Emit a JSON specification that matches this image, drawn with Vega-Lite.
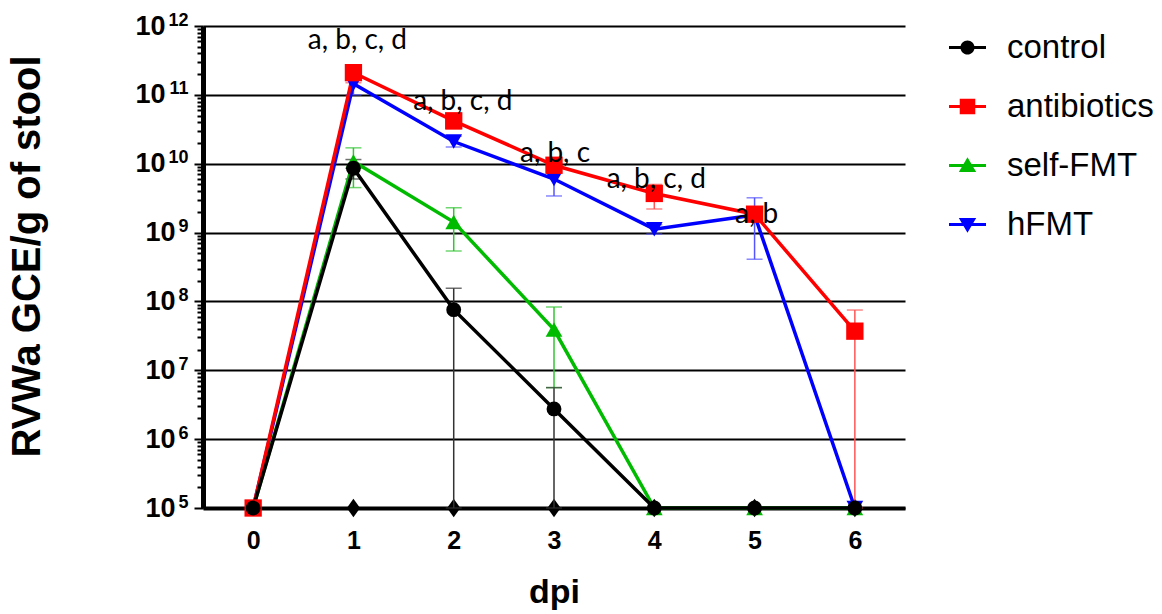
{
  "$schema": "https://vega.github.io/schema/vega-lite/v6.json",
  "width": 702,
  "height": 482,
  "autosize": {"type": "none"},
  "padding": {"left": 203, "top": 26, "right": 257, "bottom": 106},
  "background": "white",
  "config": {"view": {"stroke": null}, "font": "Liberation Sans"},
  "resolve": {"axis": {"y": "independent"}},
  "datasets": {
    "series": [
      {"group": "hFMT", "dpi": 0, "mean": 1e5},
      {"group": "hFMT", "dpi": 1, "mean": 1.45e11, "lo": 1.0e11, "hi": 1.9e11},
      {"group": "hFMT", "dpi": 2, "mean": 2.1e10, "lo": 1.75e10, "hi": 2.5e10},
      {"group": "hFMT", "dpi": 3, "mean": 6.0e9, "lo": 3.4e9, "hi": 8.5e9},
      {"group": "hFMT", "dpi": 4, "mean": 1.12e9, "lo": 9.5e8, "hi": 1.3e9},
      {"group": "hFMT", "dpi": 5, "mean": 1.8e9, "lo": 4.1e8, "hi": 3.2e9},
      {"group": "hFMT", "dpi": 6, "mean": 1e5},
      {"group": "self-FMT", "dpi": 0, "mean": 1e5},
      {"group": "self-FMT", "dpi": 1, "mean": 1.08e10, "lo": 4.5e9, "hi": 1.7e10},
      {"group": "self-FMT", "dpi": 2, "mean": 1.42e9, "lo": 5.4e8, "hi": 2.3e9},
      {"group": "self-FMT", "dpi": 3, "mean": 3.9e7, "lo": 5.6e6, "hi": 8.3e7},
      {"group": "self-FMT", "dpi": 4, "mean": 1e5},
      {"group": "self-FMT", "dpi": 5, "mean": 1e5},
      {"group": "self-FMT", "dpi": 6, "mean": 1e5},
      {"group": "antibiotics", "dpi": 0, "mean": 1e5},
      {"group": "antibiotics", "dpi": 1, "mean": 2.1e11, "lo": 1.5e11, "hi": 2.7e11},
      {"group": "antibiotics", "dpi": 2, "mean": 4.2e10, "lo": 3.2e10, "hi": 5.2e10},
      {"group": "antibiotics", "dpi": 3, "mean": 9.5e9, "lo": 8.0e9, "hi": 1.1e10},
      {"group": "antibiotics", "dpi": 4, "mean": 3.7e9, "lo": 2.2e9, "hi": 5.0e9},
      {"group": "antibiotics", "dpi": 5, "mean": 1.85e9, "lo": 1.45e9, "hi": 2.25e9},
      {"group": "antibiotics", "dpi": 6, "mean": 3.7e7, "lo": 1e5, "hi": 7.5e7},
      {"group": "control", "dpi": 0, "mean": 1e5},
      {"group": "control", "dpi": 1, "mean": 8.6e9, "lo": 6.0e9, "hi": 1.15e10},
      {"group": "control", "dpi": 2, "mean": 7.6e7, "lo": 1e5, "hi": 1.55e8},
      {"group": "control", "dpi": 3, "mean": 2.75e6, "lo": 1e5, "hi": 5.6e6},
      {"group": "control", "dpi": 4, "mean": 1e5},
      {"group": "control", "dpi": 5, "mean": 1e5},
      {"group": "control", "dpi": 6, "mean": 1e5}
    ],
    "ticks": [
      {"dpi": 1, "v": 1e5}, {"dpi": 2, "v": 1e5}, {"dpi": 3, "v": 1e5},
      {"dpi": 4, "v": 1e5}, {"dpi": 5, "v": 1e5}, {"dpi": 6, "v": 1e5}
    ],
    "notes": [
      {"label": "a, b, c, d", "dpi": 1.04, "v": 6.0e11},
      {"label": "a, b, c, d", "dpi": 2.09, "v": 7.8e10},
      {"label": "a, b, c", "dpi": 3.01, "v": 1.38e10},
      {"label": "a, b, c, d", "dpi": 4.02, "v": 5.8e9},
      {"label": "a, b", "dpi": 5.02, "v": 1.8e9}
    ]
  },
  "layer": [
    {
      "data": {"name": "ticks"},
      "mark": {"type": "point", "filled": true, "opacity": 1, "color": "black", "size": 340, "shape": "M 0 -1 L 0.72 0 L 0 1 L -0.72 0 Z"},
      "encoding": {
        "x": {
          "field": "dpi", "type": "quantitative",
          "scale": {"domain": [-0.5, 6.5], "nice": false, "zero": false},
          "axis": {
            "title": "dpi", "values": [0, 1, 2, 3, 4, 5, 6], "format": "d",
            "ticks": false, "grid": false,
            "domainColor": "black", "domainWidth": 4,
            "labelFont": "Liberation Sans", "labelFontWeight": "bold", "labelFontSize": 25, "labelColor": "black", "labelPadding": 20,
            "titleFont": "Liberation Sans", "titleFontSize": 34, "titleFontWeight": "bold", "titleColor": "black", "titlePadding": 22
          }
        },
        "y": {
          "field": "v", "type": "quantitative",
          "scale": {"type": "log", "domain": [1e5, 1e12], "nice": false},
          "axis": {
            "orient": "left",
            "title": "RVWa GCE/g of stool",
            "titleY": 230,
            "values": [1e5, 2e5, 3e5, 4e5, 5e5, 6e5, 7e5, 8e5, 9e5,
                       1e6, 2e6, 3e6, 4e6, 5e6, 6e6, 7e6, 8e6, 9e6,
                       1e7, 2e7, 3e7, 4e7, 5e7, 6e7, 7e7, 8e7, 9e7,
                       1e8, 2e8, 3e8, 4e8, 5e8, 6e8, 7e8, 8e8, 9e8,
                       1e9, 2e9, 3e9, 4e9, 5e9, 6e9, 7e9, 8e9, 9e9,
                       1e10, 2e10, 3e10, 4e10, 5e10, 6e10, 7e10, 8e10, 9e10,
                       1e11, 2e11, 3e11, 4e11, 5e11, 6e11, 7e11, 8e11, 9e11,
                       1e12],
            "labelExpr": "abs(log(datum.value)/LN10 - round(log(datum.value)/LN10)) < 0.001 ? '10' : ''",
            "labelOverlap": false,
            "labelFont": "Liberation Sans", "labelFontWeight": "bold", "labelFontSize": 27, "labelColor": "black",
            "labelPadding": {"condition": {"test": "datum.value > 5e9", "value": 29}, "value": 19},
            "tickSize": {"condition": {"test": "abs(log(datum.value)/LN10 - round(log(datum.value)/LN10)) < 0.001", "value": 9}, "value": 6},
            "tickWidth": 2, "tickColor": "black",
            "grid": true, "gridColor": "black", "gridWidth": 2,
            "gridOpacity": {"condition": {"test": "abs(log(datum.value)/LN10 - round(log(datum.value)/LN10)) < 0.001", "value": 1}, "value": 0},
            "domainColor": "black", "domainWidth": 5,
            "titleFont": "Liberation Sans", "titleFontSize": 40, "titleFontWeight": "bold", "titleColor": "black", "titlePadding": 87
          }
        }
      }
    },
    {
      "data": {"name": "series"},
      "transform": [{"filter": "isValid(datum.lo)"}],
      "mark": {"type": "rule", "strokeWidth": 1.5},
      "encoding": {
        "x": {"field": "dpi", "type": "quantitative"},
        "y": {"field": "lo", "type": "quantitative", "axis": null},
        "y2": {"field": "hi"},
        "stroke": {
          "field": "group", "type": "nominal", "legend": null,
          "scale": {"domain": ["hFMT", "self-FMT", "antibiotics", "control"], "range": ["#5555FF", "#33C433", "#FF5555", "#333333"]}
        }
      }
    },
    {
      "data": {"name": "series"},
      "transform": [{"filter": "isValid(datum.lo)"}, {"fold": ["lo", "hi"], "as": ["k", "bound"]}],
      "mark": {"type": "tick", "orient": "horizontal", "size": 16, "thickness": 1.5},
      "encoding": {
        "x": {"field": "dpi", "type": "quantitative"},
        "y": {"field": "bound", "type": "quantitative", "axis": null},
        "fill": {
          "field": "group", "type": "nominal", "legend": null,
          "scale": {"domain": ["self-FMT", "hFMT", "control", "antibiotics"], "range": ["#33C433", "#5555FF", "#333333", "#FF5555"]}
        }
      }
    },
    {
      "data": {"name": "series"},
      "mark": {"type": "line", "strokeWidth": 3.5},
      "encoding": {
        "x": {"field": "dpi", "type": "quantitative"},
        "y": {"field": "mean", "type": "quantitative", "axis": null},
        "color": {
          "field": "group", "type": "nominal",
          "scale": {"domain": ["control", "antibiotics", "self-FMT", "hFMT"], "range": ["#000000", "#FF0000", "#00BB00", "#0000FF"]},
          "legend": {
            "orient": "none", "legendX": 746, "legendY": 3,
            "title": null,
            "labelFont": "Liberation Sans", "labelFontSize": 33, "labelColor": "black",
            "symbolSize": 1369, "rowPadding": 23, "labelOffset": 21, "symbolOpacity": 1,
            "symbolStrokeWidth": 0,
            "encode": {
              "symbols": {
                "update": {
                  "shape": {"signal": "datum.value === 'control' ? 'M -1 -0.08 H 1 V 0.08 H -1 Z M 0.38 0 A 0.38 0.38 0 1 1 -0.38 0 A 0.38 0.38 0 1 1 0.38 0 Z' : datum.value === 'antibiotics' ? 'M -1 -0.08 H 1 V 0.08 H -1 Z M -0.42 -0.42 H 0.42 V 0.42 H -0.42 Z' : datum.value === 'self-FMT' ? 'M -1 -0.08 H 1 V 0.08 H -1 Z M 0 -0.45 L 0.47 0.35 L -0.47 0.35 Z' : 'M -1 -0.08 H 1 V 0.08 H -1 Z M -0.47 -0.35 L 0.47 -0.35 L 0 0.45 Z'"},
                  "fill": {"signal": "scale('color', datum.value)"},
                  "opacity": {"value": 1},
                  "fillOpacity": {"value": 1},
                  "strokeWidth": {"value": 0}
                }
              }
            }
          }
        }
      }
    },
    {
      "data": {"name": "series"},
      "transform": [{"filter": "datum.group === 'hFMT'"}],
      "mark": {"type": "point", "filled": true, "opacity": 1, "size": 280, "shape": "triangle-down", "color": "#0000FF"},
      "encoding": {
        "x": {"field": "dpi", "type": "quantitative"},
        "y": {"field": "mean", "type": "quantitative", "axis": null}
      }
    },
    {
      "data": {"name": "series"},
      "transform": [{"filter": "datum.group === 'self-FMT'"}],
      "mark": {"type": "point", "filled": true, "opacity": 1, "size": 280, "shape": "triangle-up", "color": "#00BB00"},
      "encoding": {
        "x": {"field": "dpi", "type": "quantitative"},
        "y": {"field": "mean", "type": "quantitative", "axis": null}
      }
    },
    {
      "data": {"name": "series"},
      "transform": [{"filter": "datum.group === 'antibiotics'"}],
      "mark": {"type": "point", "filled": true, "opacity": 1, "size": 300, "shape": "square", "color": "#FF0000"},
      "encoding": {
        "x": {"field": "dpi", "type": "quantitative"},
        "y": {"field": "mean", "type": "quantitative", "axis": null}
      }
    },
    {
      "data": {"name": "series"},
      "transform": [{"filter": "datum.group === 'control'"}],
      "mark": {"type": "point", "filled": true, "opacity": 1, "size": 220, "shape": "circle", "color": "#000000"},
      "encoding": {
        "x": {"field": "dpi", "type": "quantitative"},
        "y": {"field": "mean", "type": "quantitative", "axis": null}
      }
    },
    {
      "data": {"name": "notes"},
      "mark": {"type": "text", "font": "Lato", "fontSize": 28, "color": "black", "align": "center", "baseline": "middle"},
      "encoding": {
        "x": {"field": "dpi", "type": "quantitative"},
        "y": {
          "field": "v", "type": "quantitative",
          "axis": {
            "orient": "left",
            "title": null,
            "values": [1e5, 1e6, 1e7, 1e8, 1e9, 1e10, 1e11, 1e12],
            "labelExpr": "format(round(log(datum.value)/LN10), 'd')",
            "labelOverlap": false,
            "labelFont": "Liberation Sans", "labelFontWeight": "bold", "labelFontSize": 18, "labelColor": "black",
            "labelPadding": 15, "labelOffset": -6,
            "ticks": false, "tickSize": 0, "domain": false, "grid": false
          }
        },
        "text": {"field": "label", "type": "nominal"}
      }
    }
  ]
}
